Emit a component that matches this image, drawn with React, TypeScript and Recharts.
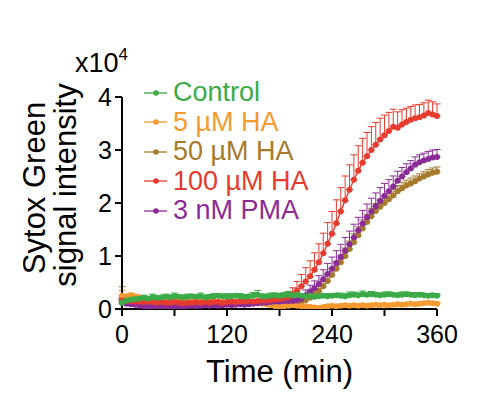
import React from "react";
import { LineChart, Line, XAxis, YAxis, ErrorBar } from "recharts";

const FONT = '"Liberation Sans", Arial, Helvetica, sans-serif';

const time = [
  0, 5, 10, 15, 20, 25, 30, 35, 40, 45, 50, 55, 60, 65, 70, 75, 80, 85, 90, 95,
  100, 105, 110, 115, 120, 125, 130, 135, 140, 145, 150, 155, 160, 165, 170, 175,
  180, 185, 190, 195, 200, 205, 210, 215, 220, 225, 230, 235, 240, 245, 250, 255,
  260, 265, 270, 275, 280, 285, 290, 295, 300, 305, 310, 315, 320, 325, 330, 335,
  340, 345, 350, 355, 360,
];

const xTicks = [0, 60, 120, 180, 240, 300, 360];
const xLabelled = [0, 120, 240, 360];
const yTicks = [0, 1, 2, 3, 4];

// values in units of x10^4
const control = [
  0.12, 0.16, 0.18, 0.19, 0.2, 0.21, 0.2, 0.22, 0.21, 0.22,
  0.23, 0.22, 0.24, 0.23, 0.22, 0.23, 0.24, 0.23, 0.24, 0.22,
  0.23, 0.24, 0.25, 0.24, 0.23, 0.24, 0.25, 0.24, 0.23, 0.24,
  0.25, 0.27, 0.24, 0.24, 0.25, 0.26, 0.25, 0.26, 0.27, 0.26,
  0.27, 0.25, 0.24, 0.25, 0.23, 0.24, 0.25, 0.24, 0.25, 0.26,
  0.25, 0.24, 0.26, 0.27, 0.26, 0.28, 0.27, 0.28, 0.27, 0.26,
  0.27, 0.28, 0.27, 0.26, 0.27, 0.28, 0.27, 0.26, 0.27, 0.26,
  0.25, 0.26, 0.25,
];
const controlErr = [
  0.04, 0.03, 0.05, 0.03, 0.04, 0.05, 0.03, 0.06, 0.04, 0.03,
  0.05, 0.04, 0.06, 0.03, 0.04, 0.05, 0.03, 0.04, 0.06, 0.03,
  0.04, 0.05, 0.04, 0.03, 0.06, 0.04, 0.03, 0.05, 0.04, 0.03,
  0.06, 0.08, 0.04, 0.03, 0.05, 0.04, 0.03, 0.05, 0.06, 0.04,
  0.05, 0.03, 0.04, 0.05, 0.03, 0.04, 0.03, 0.05, 0.04, 0.03,
  0.05, 0.04, 0.06, 0.05, 0.04, 0.06, 0.04, 0.05, 0.04, 0.03,
  0.05, 0.04, 0.03, 0.04, 0.05, 0.04, 0.03, 0.05, 0.04, 0.03,
  0.04, 0.03, 0.04,
];

const ha5 = [
  0.25, 0.24, 0.26, 0.24, 0.22, 0.2, 0.18, 0.17, 0.18, 0.17,
  0.16, 0.17, 0.16, 0.15, 0.16, 0.15, 0.14, 0.15, 0.14, 0.15,
  0.14, 0.15, 0.14, 0.13, 0.14, 0.13, 0.14, 0.13, 0.12, 0.13,
  0.12, 0.11, 0.1, 0.09, 0.07, 0.05, 0.04, 0.05, 0.06, 0.07,
  0.06, 0.05, 0.05, 0.04, 0.03, 0.02, 0.04, 0.05, 0.06, 0.05,
  0.06, 0.07, 0.06, 0.07, 0.06, 0.07, 0.06, 0.07, 0.08, 0.07,
  0.08, 0.07, 0.08, 0.09, 0.08, 0.09, 0.1, 0.09, 0.1, 0.11,
  0.12, 0.11, 0.1,
];
const ha5Err = [
  0.1, 0.03, 0.04, 0.03, 0.02, 0.03, 0.02, 0.03, 0.02, 0.03,
  0.02, 0.03, 0.02, 0.03, 0.02, 0.03, 0.02, 0.03, 0.02, 0.03,
  0.02, 0.03, 0.02, 0.03, 0.02, 0.03, 0.02, 0.03, 0.02, 0.03,
  0.02, 0.03, 0.02, 0.03, 0.02, 0.03, 0.05, 0.03, 0.02, 0.03,
  0.02, 0.03, 0.02, 0.03, 0.02, 0.03, 0.02, 0.03, 0.02, 0.03,
  0.02, 0.03, 0.02, 0.03, 0.02, 0.03, 0.02, 0.03, 0.02, 0.03,
  0.02, 0.03, 0.02, 0.03, 0.02, 0.03, 0.02, 0.03, 0.02, 0.03,
  0.02, 0.03, 0.02,
];

const ha50 = [
  0.2, 0.18, 0.17, 0.16, 0.15, 0.15, 0.14, 0.14, 0.13, 0.14,
  0.13, 0.13, 0.12, 0.13, 0.12, 0.12, 0.13, 0.12, 0.12, 0.13,
  0.12, 0.12, 0.13, 0.12, 0.12, 0.13, 0.12, 0.12, 0.13, 0.12,
  0.12, 0.13, 0.12, 0.12, 0.13, 0.12, 0.12, 0.13, 0.12, 0.12,
  0.13, 0.14, 0.17, 0.21, 0.27, 0.34, 0.43, 0.53, 0.64, 0.76,
  0.88, 1.0, 1.13, 1.26, 1.39, 1.52, 1.64, 1.75, 1.85, 1.93,
  2.0, 2.07, 2.14, 2.22, 2.28, 2.33, 2.37, 2.41, 2.46, 2.5,
  2.54, 2.57, 2.59,
];
const ha50Err = [
  0.22, 0.04, 0.03, 0.03, 0.03, 0.03, 0.03, 0.03, 0.03, 0.03,
  0.03, 0.03, 0.03, 0.03, 0.03, 0.03, 0.03, 0.03, 0.03, 0.03,
  0.03, 0.03, 0.03, 0.03, 0.03, 0.03, 0.03, 0.03, 0.03, 0.03,
  0.03, 0.03, 0.03, 0.03, 0.03, 0.03, 0.03, 0.03, 0.03, 0.03,
  0.04, 0.05, 0.06, 0.07, 0.08, 0.09, 0.1, 0.11, 0.12, 0.13,
  0.14, 0.15, 0.15, 0.16, 0.16, 0.16, 0.15, 0.15, 0.14, 0.14,
  0.13, 0.12, 0.12, 0.11, 0.11, 0.1, 0.1, 0.1, 0.09, 0.09,
  0.09, 0.09, 0.09,
];

const ha100 = [
  0.16, 0.15, 0.15, 0.14, 0.14, 0.13, 0.14, 0.13, 0.12, 0.13,
  0.12, 0.12, 0.13, 0.12, 0.11, 0.12, 0.12, 0.13, 0.12, 0.13,
  0.12, 0.13, 0.13, 0.12, 0.13, 0.14, 0.13, 0.14, 0.14, 0.15,
  0.14, 0.15, 0.16, 0.16, 0.17, 0.18, 0.19, 0.2, 0.22, 0.28,
  0.35, 0.43, 0.52, 0.62, 0.74, 0.88, 1.05, 1.23, 1.42, 1.62,
  1.84, 2.05, 2.25, 2.44, 2.61, 2.76, 2.88, 3.0, 3.1, 3.2,
  3.28, 3.36, 3.44, 3.42, 3.48, 3.53, 3.57, 3.6, 3.62, 3.65,
  3.7, 3.67, 3.64,
];
const ha100Err = [
  0.04, 0.03, 0.03, 0.03, 0.03, 0.03, 0.03, 0.03, 0.03, 0.03,
  0.03, 0.03, 0.03, 0.03, 0.03, 0.03, 0.03, 0.03, 0.03, 0.03,
  0.03, 0.03, 0.03, 0.03, 0.03, 0.03, 0.03, 0.03, 0.03, 0.03,
  0.03, 0.03, 0.03, 0.03, 0.04, 0.04, 0.05, 0.06, 0.08, 0.12,
  0.17, 0.22, 0.26, 0.29, 0.32, 0.35, 0.38, 0.4, 0.42, 0.44,
  0.45, 0.46, 0.47, 0.47, 0.47, 0.46, 0.45, 0.44, 0.42, 0.4,
  0.38, 0.35, 0.33, 0.3, 0.28, 0.26, 0.25, 0.25, 0.24, 0.24,
  0.24, 0.24, 0.23,
];

const pma = [
  0.12, 0.1, 0.09, 0.08, 0.06, 0.05, 0.04, 0.05, 0.04, 0.05,
  0.04, 0.03, 0.04, 0.05, 0.04, 0.05, 0.06, 0.05, 0.06, 0.07,
  0.06, 0.07, 0.06, 0.07, 0.08, 0.07, 0.08, 0.09, 0.08, 0.09,
  0.1, 0.11, 0.12, 0.12, 0.13, 0.14, 0.14, 0.15, 0.15, 0.15,
  0.16, 0.19, 0.26, 0.33, 0.39, 0.47, 0.56, 0.66, 0.76, 0.87,
  0.98, 1.1, 1.22, 1.35, 1.48, 1.61, 1.73, 1.84, 1.94, 2.04,
  2.13, 2.22, 2.31, 2.42, 2.5, 2.58, 2.65, 2.72, 2.77, 2.8,
  2.83, 2.86, 2.87,
];
const pmaErr = [
  0.04, 0.03, 0.03, 0.03, 0.03, 0.03, 0.03, 0.03, 0.03, 0.03,
  0.03, 0.03, 0.03, 0.03, 0.03, 0.03, 0.03, 0.03, 0.03, 0.03,
  0.03, 0.03, 0.03, 0.03, 0.03, 0.03, 0.03, 0.03, 0.03, 0.03,
  0.03, 0.03, 0.03, 0.03, 0.03, 0.03, 0.03, 0.03, 0.03, 0.04,
  0.05, 0.07, 0.1, 0.12, 0.14, 0.16, 0.18, 0.2, 0.22, 0.23,
  0.24, 0.25, 0.25, 0.25, 0.25, 0.25, 0.25, 0.25, 0.25, 0.25,
  0.24, 0.22, 0.2, 0.18, 0.17, 0.16, 0.15, 0.15, 0.14, 0.14,
  0.14, 0.14, 0.14,
];

const legendOrder = ["control", "ha5", "ha50", "ha100", "pma"];
const drawOrder = ["ha50", "ha5", "pma", "ha100", "control"];
const names: Record<string, string> = {
  control: "Control",
  ha5: "5 µM HA",
  ha50: "50 µM HA",
  ha100: "100 µM HA",
  pma: "3 nM PMA",
};
const colors: Record<string, string> = {
  control: "#3aab47",
  ha5: "#f59a2f",
  ha50: "#a57b2c",
  ha100: "#e63b2e",
  pma: "#8a2c96",
};

const rows = time.map((t, i) => ({
  t,
  control: control[i],
  controlErr: controlErr[i],
  ha5: ha5[i],
  ha5Err: ha5Err[i],
  ha50: ha50[i],
  ha50Err: ha50Err[i],
  ha100: ha100[i],
  ha100Err: ha100Err[i],
  pma: pma[i],
  pmaErr: pmaErr[i],
}));

function YTitle() {
  return (
    <g fontFamily={FONT} fill="#000">
      <text transform="translate(45,188) rotate(-90)" textAnchor="middle" fontSize={31}>
        Sytox Green
      </text>
      <text transform="translate(76,185) rotate(-90)" textAnchor="middle" fontSize={31}>
        signal intensity
      </text>
      <text x={75} y={72} fontSize={27}>
        x10
        <tspan dy={-12} fontSize={17}>
          4
        </tspan>
      </text>
    </g>
  );
}

function XTitle() {
  return (
    <text x={279.5} y={382} textAnchor="middle" fontSize={31} fontFamily={FONT} fill="#000">
      Time (min)
    </text>
  );
}

function LegendBox() {
  return (
    <div style={{ position: "absolute", left: 142, top: 78, fontFamily: FONT, fontSize: 27 }}>
      {legendOrder.map((k) => (
        <div key={k} style={{ display: "flex", alignItems: "center", height: 29.5, color: colors[k] }}>
          <svg width={28} height={10} style={{ marginRight: 3 }}>
            <line x1={2} y1={5} x2={25} y2={5} stroke={colors[k]} strokeWidth={1.3} />
            <circle cx={14} cy={5} r={2.8} fill={colors[k]} />
          </svg>
          <span>{names[k]}</span>
        </div>
      ))}
    </div>
  );
}

export default function App() {
  return (
    <div style={{ position: "absolute", left: 0, top: 0, width: 484, height: 397, background: "#fff" }}>
      <LineChart
        width={484}
        height={397}
        data={rows}
        margin={{ top: 97, right: 47, bottom: 58, left: 0 }}
      >
        <XAxis
          dataKey="t"
          type="number"
          domain={[0, 360]}
          ticks={xTicks}
          tickFormatter={(v) => (xLabelled.includes(v) ? String(v) : "")}
          tickSize={7}
          tickMargin={9}
          height={30}
          axisLine={{ stroke: "#000", strokeWidth: 2 }}
          tickLine={{ stroke: "#000", strokeWidth: 2 }}
          tick={{ fill: "#000", fontSize: 25, fontFamily: FONT }}
          label={() => <XTitle />}
        />
        <YAxis
          domain={[0, 4]}
          ticks={yTicks}
          allowDataOverflow
          width={122}
          tickSize={7}
          tickMargin={3}
          axisLine={{ stroke: "#000", strokeWidth: 2 }}
          tickLine={{ stroke: "#000", strokeWidth: 2 }}
          tick={{ fill: "#000", fontSize: 25, fontFamily: FONT }}
          label={() => <YTitle />}
        />
        {drawOrder.map((k) => (
          <Line
            key={k}
            dataKey={k}
            type="linear"
            stroke={colors[k]}
            strokeWidth={1.4}
            dot={{ r: 3, fill: colors[k], stroke: colors[k], strokeWidth: 0 }}
            activeDot={false}
            isAnimationActive={false}
          >
            <ErrorBar
              dataKey={(d: any) => [0, d[k + "Err"]]}
              direction="y"
              width={3.5}
              stroke={colors[k]}
              strokeWidth={1}
              isAnimationActive={false}
            />
          </Line>
        ))}
      </LineChart>
      <LegendBox />
    </div>
  );
}
